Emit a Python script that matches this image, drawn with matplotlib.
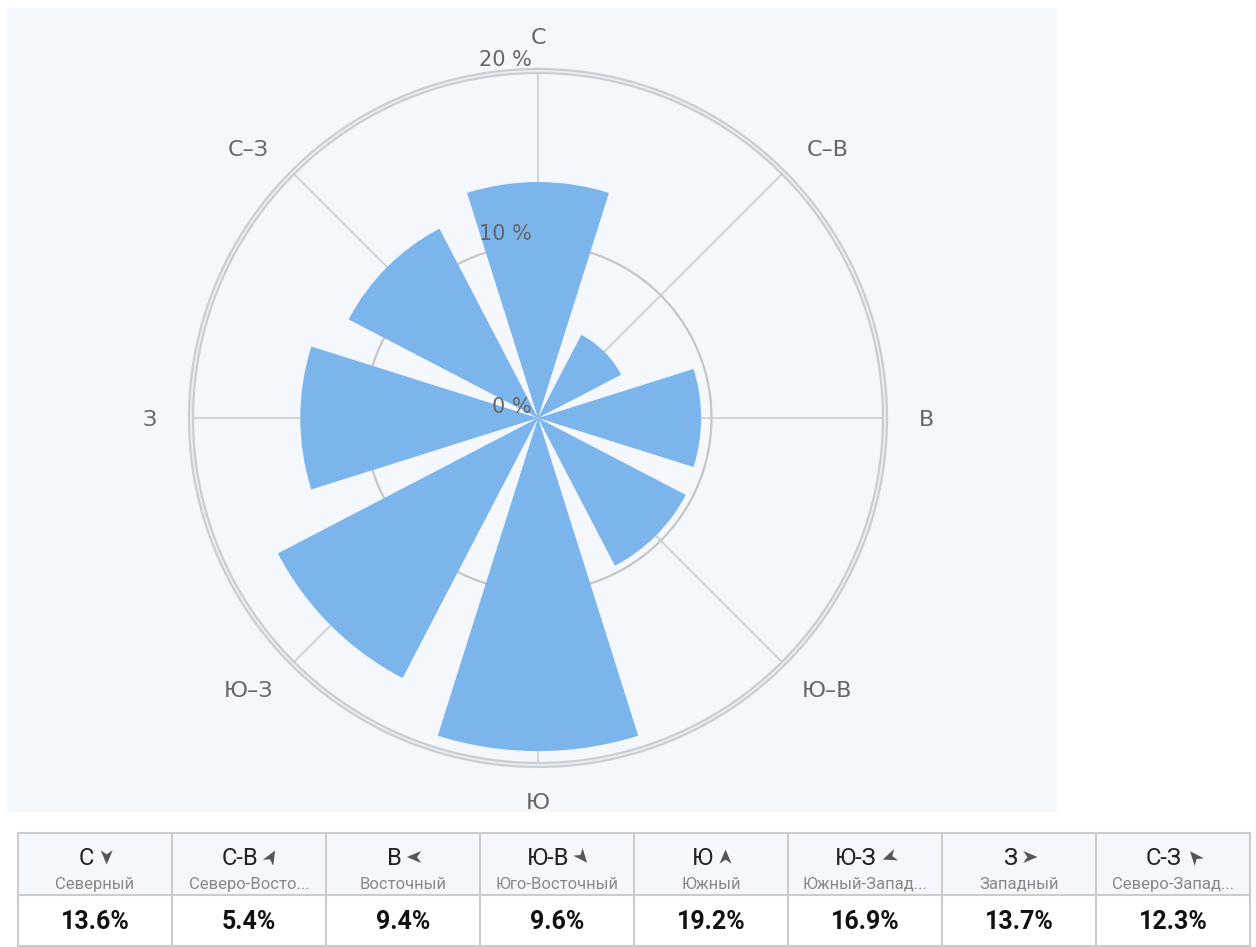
import numpy as np
import matplotlib
matplotlib.use("Agg")
import matplotlib.pyplot as plt
from matplotlib.patches import Rectangle, Polygon

# ---- data ----
directions = ["С", "С–В", "В", "Ю–В", "Ю", "Ю–З", "З", "С–З"]
table_codes = ["С", "С-В", "В", "Ю-В", "Ю", "Ю-З", "З", "С-З"]
table_names = ["Северный", "Северо-Восто...", "Восточный", "Юго-Восточный",
               "Южный", "Южный-Запад...", "Западный", "Северо-Запад..."]
values = [13.6, 5.4, 9.4, 9.6, 19.2, 16.9, 13.7, 12.3]
radial_ticks = [0, 10, 20]
arrow_rot = [-90, 60, 180, -50, 90, 200, 0, 130]

W, H = 1256, 947
fig = plt.figure(figsize=(W / 100, H / 100), dpi=100)
fig.patch.set_facecolor("white")

BG = "#f4f8fc"
ov = fig.add_axes([0, 0, 1, 1], zorder=0)
ov.set_xlim(0, W)
ov.set_ylim(H, 0)
ov.axis("off")
ov.add_patch(Rectangle((7, 8), 1050, 804, facecolor=BG, edgecolor="none"))

# ---- polar chart ----
cx, cy, R = 538, 418, 347
ax = fig.add_axes([(cx - R) / W, (H - cy - R) / H, 2 * R / W, 2 * R / H],
                  projection="polar", zorder=2)
ax.set_facecolor("none")
ax.set_theta_zero_location("N")
ax.set_theta_direction(-1)
ax.set_ylim(0, 20)
ax.set_xticks([])
ax.set_yticks([])
ax.grid(False)
ax.spines["polar"].set_visible(False)

n = len(directions)
theta = np.deg2rad(np.arange(n) * 360.0 / n)
full = np.linspace(0, 2 * np.pi, 400)

for t in theta:
    ax.plot([t, t], [0, 20], color="#cccccc", lw=1.2, zorder=1)
ax.plot(full, np.full_like(full, 10), color="#c6c6c6", lw=1.6, zorder=1)
ax.plot(full, np.full_like(full, 20), color="#c9cdd6", lw=4.5, zorder=1, clip_on=False)
ax.plot(full, np.full_like(full, 20), color="#e9ecf1", lw=1.4, zorder=1, clip_on=False)

ax.bar(theta, values, width=np.deg2rad(35), color="#7cb5ec", edgecolor="none", zorder=3)

# direction labels: offsets (px) from the outer ring
PX2PT = 0.72
for t, lab in zip(theta, directions):
    s, c = np.sin(t), np.cos(t)
    if abs(s) < 1e-6 or abs(c) < 1e-6:
        dx, dy = 41 * s, 35 * c
    else:
        dx, dy = 44 * np.sign(s), 25 * np.sign(c)
    dy -= 2.5
    ax.annotate(lab, xy=(t, 20), xytext=(dx * PX2PT, dy * PX2PT),
                textcoords="offset points", ha="center", va="center",
                fontsize=16, color="#666666", family="DejaVu Sans", zorder=5)

for r in radial_ticks:
    ax.annotate(f"{r} %", xy=(0, r), xytext=(-4.5, 0.5), textcoords="offset points",
                ha="right", va="bottom", fontsize=15, color="#666666",
                family="DejaVu Sans", zorder=5)

# ---- table ----
x0, x1 = 18, 1250
ytop, ymid, ybot = 833, 895, 946
cw = (x1 - x0) / n
ov.add_patch(Rectangle((x0, ytop), x1 - x0, ymid - ytop, facecolor=BG, edgecolor="none"))
line_c = "#cccccc"
for yy in (ytop, ymid, ybot):
    ov.plot([x0, x1], [yy, yy], color=line_c, lw=1.5)
for i in range(n + 1):
    x = x0 + i * cw
    ov.plot([x, x], [ytop, ybot], color=line_c, lw=1.5)

fig.canvas.draw()
renderer = fig.canvas.get_renderer()
arrow_shape = np.array([[1.0, 0.0], [-0.9, 0.8], [-0.35, 0.0], [-0.9, -0.8]])
for i in range(n):
    xc = x0 + (i + 0.5) * cw
    t = ov.text(xc - 9, 858, table_codes[i], ha="center", va="center", fontsize=17,
                color="#222222", family="Roboto")
    bb = t.get_window_extent(renderer=renderer)
    ax_c, ay_c = bb.x1 + 13, 857
    a = np.deg2rad(arrow_rot[i])
    pts = arrow_shape * 7.5
    sx = pts[:, 0] * np.cos(a) - pts[:, 1] * np.sin(a)
    sy = pts[:, 0] * np.sin(a) + pts[:, 1] * np.cos(a)
    ov.add_patch(Polygon(np.column_stack([ax_c + sx, ay_c - sy]), closed=True,
                         facecolor="#555555", edgecolor="none"))
    ov.text(xc, 884, table_names[i], ha="center", va="center", fontsize=12,
            color="#888888", family="Roboto")
    ov.text(xc, 922, f"{values[i]}%", ha="center", va="center", fontsize=18,
            color="#111111", family="Roboto", fontweight="bold")

fig.savefig("out.png", dpi=100, facecolor="white")
